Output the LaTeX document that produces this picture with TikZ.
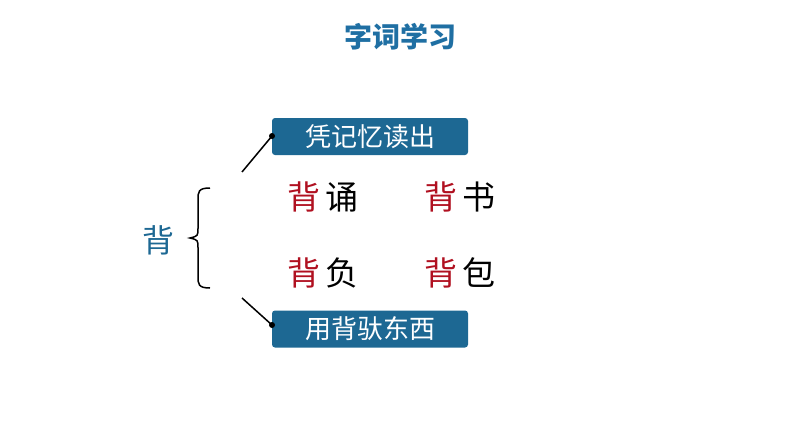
\documentclass[tikz,border=0pt]{standalone}
\usepackage{fontspec}
\newfontfamily\cjk{Noto Sans CJK SC}
\definecolor{tblue}{HTML}{1F6FA3}
\definecolor{bx}{HTML}{1D6893}
\definecolor{rd}{HTML}{B01020}
\begin{document}
\begin{tikzpicture}[x=1pt,y=-1pt,
  lab/.style={fill=bx,rounded corners=3pt,minimum width=196pt,minimum height=37pt,text=white,font=\cjk\fontsize{26}{26}\selectfont,inner sep=0pt},
  word/.style={font=\cjk\fontsize{33}{33}\selectfont,inner sep=0pt,anchor=west}]
\useasboundingbox (0,0) rectangle (794,447);
\node[text=tblue,font=\cjk\bfseries\fontsize{28}{28}\selectfont] (t) at (400,37) {字词学习};
\node[lab] (b1) at (370,136.5) {凭记忆读出};
\node[lab] (b2) at (370,329) {用背驮东西};
\node[text=bx,font=\cjk\fontsize{32}{32}\selectfont] (bei) at (158,240) {背};
\draw[line width=1.5pt] (210,188) .. controls (198,188) and (198,192) .. (198,200) -- (198,228) .. controls (198,236) .. (190,238) .. controls (198,240) .. (198,248) -- (198,276) .. controls (198,284) and (198,288) .. (210,288);
\coordinate (l1) at (242,172);
\coordinate (l2) at (242,298);
\coordinate (d1) at (272,136);
\coordinate (d2) at (272,325);
\draw[line width=1.5pt] (l1) -- (d1); \fill (d1) circle (3pt);
\draw[line width=1.5pt] (l2) -- (d2); \fill (d2) circle (3pt);
\node[word] (w1) at (287,197) {\textcolor{rd}{背}\,诵};
\node[word] (w2) at (424,197) {\textcolor{rd}{背}\,书};
\node[word] (w3) at (287,273) {\textcolor{rd}{背}\,负};
\node[word] (w4) at (424,273) {\textcolor{rd}{背}\,包};
\end{tikzpicture}
\end{document}
